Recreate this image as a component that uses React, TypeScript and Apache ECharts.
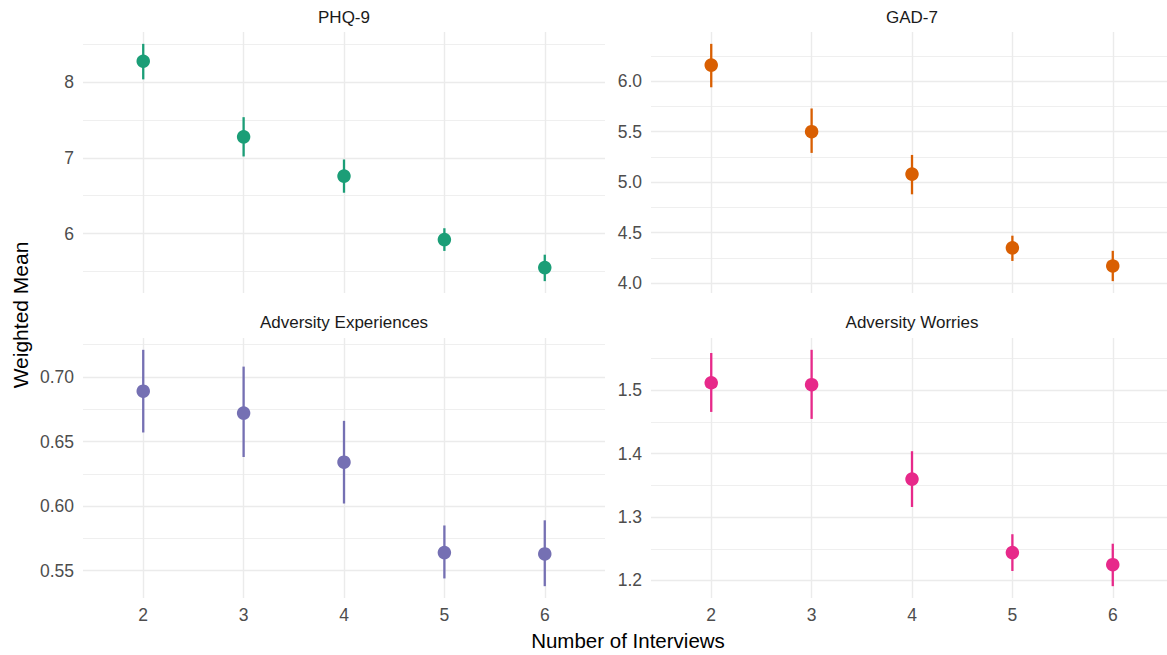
import React, { useEffect, useRef } from "react";
import * as echarts from "echarts";

// ---- data ----
const interviews = [2, 3, 4, 5, 6];

const phqMean = [8.28, 7.28, 6.76, 5.92, 5.55];
const phqLo = [8.04, 7.02, 6.54, 5.77, 5.37];
const phqHi = [8.51, 7.54, 6.98, 6.07, 5.72];

const gadMean = [6.16, 5.5, 5.08, 4.35, 4.17];
const gadLo = [5.94, 5.29, 4.88, 4.22, 4.02];
const gadHi = [6.37, 5.73, 5.27, 4.47, 4.32];

const expMean = [0.689, 0.672, 0.634, 0.564, 0.563];
const expLo = [0.657, 0.638, 0.602, 0.544, 0.538];
const expHi = [0.721, 0.708, 0.666, 0.585, 0.589];

const worMean = [1.512, 1.509, 1.36, 1.244, 1.225];
const worLo = [1.466, 1.455, 1.316, 1.215, 1.191];
const worHi = [1.559, 1.564, 1.404, 1.273, 1.258];

const phqMajor = [6, 7, 8];
const phqMinor = [5.5, 6.5, 7.5, 8.5];
const gadMajor = [4, 4.5, 5, 5.5, 6];
const gadMinor = [4.25, 4.75, 5.25, 5.75, 6.25];
const expMajor = [0.55, 0.6, 0.65, 0.7];
const expMinor = [0.575, 0.625, 0.675, 0.725];
const worMajor = [1.2, 1.3, 1.4, 1.5];
const worMinor = [1.25, 1.35, 1.45, 1.55];

const titles = ["PHQ-9", "GAD-7", "Adversity Experiences", "Adversity Worries"];
const xTitle = "Number of Interviews";
const yTitle = "Weighted Mean";

const panels = [
  { title: titles[0], mean: phqMean, lo: phqLo, hi: phqHi, major: phqMajor, minor: phqMinor, dec: 0, color: "#1B9E77" },
  { title: titles[1], mean: gadMean, lo: gadLo, hi: gadHi, major: gadMajor, minor: gadMinor, dec: 1, color: "#D95F02" },
  { title: titles[2], mean: expMean, lo: expLo, hi: expHi, major: expMajor, minor: expMinor, dec: 2, color: "#7570B3" },
  { title: titles[3], mean: worMean, lo: worLo, hi: worHi, major: worMajor, minor: worMinor, dec: 1, color: "#E7298A" },
];

// layout (chart canvas is wider than the window; the right edge is cropped like the reference)
const CHART_W = 1180;
const gridPos = [
  { left: 83, top: 32, width: 522, height: 261 },
  { left: 651, top: 32, width: 522, height: 261 },
  { left: 83, top: 338, width: 522, height: 260 },
  { left: 651, top: 338, width: 522, height: 260 },
];
const FONT = "'Liberation Sans', Arial, Helvetica, sans-serif";
const GRID_COLOR = "#EBEBEB";
const TICK_SIZE = 17.5;

function yRange(lo: number[], hi: number[]) {
  const a = Math.min(...lo);
  const b = Math.max(...hi);
  const pad = (b - a) * 0.05;
  return [a - pad, b + pad];
}

export default function App() {
  const ref = useRef<HTMLDivElement>(null);

  useEffect(() => {
    if (!ref.current) return;
    const chart = echarts.init(ref.current, undefined, { renderer: "svg" });

    const grid: any[] = [];
    const xAxis: any[] = [];
    const yAxis: any[] = [];
    const series: any[] = [];
    const graphic: any[] = [];

    panels.forEach((p, i) => {
      const g = gridPos[i];
      grid.push({ ...g, containLabel: false });
      const bottom = i >= 2;
      xAxis.push({
        type: "value",
        gridIndex: i,
        min: 1.4,
        max: 6.6,
        axisLine: { show: false },
        axisTick: { show: false, customValues: interviews },
        axisLabel: {
          show: bottom,
          customValues: interviews,
          color: "#4D4D4D",
          fontSize: TICK_SIZE,
          fontFamily: FONT,
          margin: 8,
        },
        splitLine: { show: true, lineStyle: { color: GRID_COLOR, width: 1.4 } },
      });
      const [ymin, ymax] = yRange(p.lo, p.hi);
      yAxis.push({
        type: "value",
        gridIndex: i,
        min: ymin,
        max: ymax,
        axisLine: { show: false },
        axisTick: { show: false, customValues: p.major },
        axisLabel: {
          show: true,
          customValues: p.major,
          color: "#4D4D4D",
          fontSize: TICK_SIZE,
          fontFamily: FONT,
          margin: 9,
          formatter: (v: number) => v.toFixed(p.dec),
        },
        splitLine: { show: true, lineStyle: { color: GRID_COLOR, width: 1.4 } },
      });
      yAxis.push({
        type: "value",
        gridIndex: i,
        min: ymin,
        max: ymax,
        axisLine: { show: false },
        axisTick: { show: false, customValues: p.minor },
        axisLabel: { show: false, customValues: p.minor },
        splitLine: { show: true, lineStyle: { color: GRID_COLOR, width: 0.8 } },
      });

      series.push({
        type: "custom",
        xAxisIndex: i,
        yAxisIndex: 2 * i,
        z: 3,
        data: interviews.map((x, k) => [x, p.lo[k], p.hi[k]]),
        encode: { x: 0, y: [1, 2] },
        renderItem: (_params: any, api: any) => {
          const x = api.value(0);
          const a = api.coord([x, api.value(1)]);
          const b = api.coord([x, api.value(2)]);
          return {
            type: "line",
            shape: { x1: a[0], y1: a[1], x2: b[0], y2: b[1] },
            style: { stroke: p.color, lineWidth: 2.3 },
          };
        },
      });
      series.push({
        type: "scatter",
        xAxisIndex: i,
        yAxisIndex: 2 * i,
        z: 4,
        symbol: "circle",
        symbolSize: 13.5,
        itemStyle: { color: p.color, opacity: 1 },
        data: interviews.map((x, k) => [x, p.mean[k]]),
      });

      graphic.push({
        type: "text",
        x: g.left + g.width / 2,
        y: i < 2 ? 17 : 322,
        style: {
          text: p.title,
          fill: "#1A1A1A",
          fontSize: 17,
          fontFamily: FONT,
          align: "center",
          verticalAlign: "middle",
        },
      });
    });

    graphic.push({
      type: "text",
      x: 628,
      y: 640,
      style: {
        text: xTitle,
        fill: "#000000",
        fontSize: 20.5,
        fontFamily: FONT,
        align: "center",
        verticalAlign: "middle",
      },
    });
    graphic.push({
      type: "text",
      x: 20,
      y: 315,
      rotation: Math.PI / 2,
      style: {
        text: yTitle,
        fill: "#000000",
        fontSize: 21,
        fontFamily: FONT,
        align: "center",
        verticalAlign: "middle",
      },
    });

    chart.setOption({
      animation: false,
      backgroundColor: "#FFFFFF",
      grid,
      xAxis,
      yAxis,
      series,
      graphic,
    });

    return () => chart.dispose();
  }, []);

  return (
    <div
      style={{
        position: "absolute",
        left: 0,
        top: 0,
        width: 1167,
        height: 655,
        overflow: "hidden",
        background: "#FFFFFF",
      }}
    >
      <div ref={ref} style={{ width: CHART_W, height: 655 }} />
    </div>
  );
}
